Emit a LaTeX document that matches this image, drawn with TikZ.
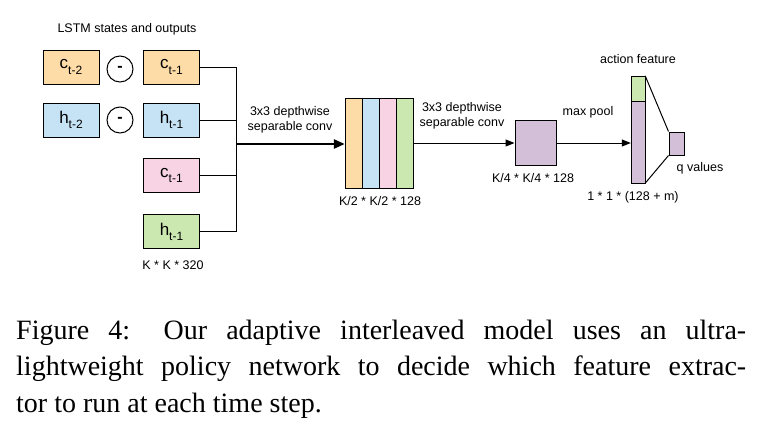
\documentclass[tikz,border=0pt]{standalone}
\usepackage{fontspec}
\setmainfont{Liberation Sans}
\newfontfamily\capfont{Liberation Serif}
\usetikzlibrary{arrows.meta}
\definecolor{cor}{HTML}{FDDCA8}
\definecolor{cbl}{HTML}{C5E3F4}
\definecolor{cpk}{HTML}{F7D3E4}
\definecolor{cgr}{HTML}{CAE8B0}
\definecolor{cpu}{HTML}{D4BFD8}
\newcommand{\sbt}[1]{\raisebox{-0.3em}{\fontsize{12}{13}\selectfont #1}}
\begin{document}
\begin{tikzpicture}[x=1pt,y=-1pt,
  bx/.style={draw,line width=1pt,minimum width=56pt,minimum height=34pt,inner sep=0pt,font=\fontsize{17}{19}\selectfont},
  lb/.style={font=\fontsize{12.5}{15}\selectfont,align=center,inner sep=0pt},
  cr/.style={draw,circle,line width=1pt,minimum size=26pt,inner sep=0pt,font=\fontsize{16}{18}\selectfont\bfseries},
  ln/.style={line width=1pt},
  ar/.style={line width=1pt,-{Triangle[length=9pt,width=7pt]}}]
\useasboundingbox (0,0) rectangle (764,442);
\fill[white] (0,0) rectangle (764,442);
\node[lb] (title) at (127,29) {LSTM states and outputs};
\node[bx,fill=cor] (c2) at (71,67) {c\sbt{t-2}};
\node[bx,fill=cbl] (h2) at (71,120) {h\sbt{t-2}};
\node[cr] (o1) at (120,69) {-};
\node[cr] (o2) at (120,120) {-};
\node[bx,fill=cor] (c1) at (171.5,67) {c\sbt{t-1}};
\node[bx,fill=cbl] (h1) at (171.5,120) {h\sbt{t-1}};
\node[bx,fill=cpk] (c1b) at (171.5,175.5) {c\sbt{t-1}};
\node[bx,fill=cgr] (h1b) at (171.5,231.5) {h\sbt{t-1}};
\node[lb] (k320) at (173,265) {K * K * 320};
\coordinate (bt) at (236,67);
\coordinate (bb) at (236,231.5);
\coordinate (bm) at (236,144);
\draw[ln] (c1.east) -- (bt) -- (bb) -- (h1b.east);
\draw[ln] (h1.east) -- (h1.east -| bm);
\draw[ln] (c1b.east) -- (c1b.east -| bm);
\foreach \i/\c in {0/cor,1/cbl,2/cpk,3/cgr}{
  \draw[ln,fill=\c] (345+17*\i,98) rectangle (362+17*\i,188);}
\node[inner sep=0pt,minimum width=68pt,minimum height=90pt] (blk) at (379,143) {};
\draw[line width=2.5pt,-{Triangle[length=11pt,width=9pt]}] (bm) -- (bm -| blk.west);
\node[lb] (l1) at (290,120) {3x3 depthwise\\separable conv};
\node[lb] (k2) at (380,201) {K/2 * K/2 * 128};
\node[draw,line width=1pt,fill=cpu,minimum width=41pt,minimum height=45pt,inner sep=0pt] (pb) at (535.5,142.5) {};
\draw[ar] (413,143) -- (pb.west |- 0,143);
\node[lb] (l2) at (462,116) {3x3 depthwise\\separable conv};
\node[lb] (k4) at (533,178) {K/4 * K/4 * 128};
\draw[ln,fill=cpu] (631,101) rectangle (645,183);
\draw[ln,fill=cgr] (631,76) rectangle (645,101);
\node[inner sep=0pt,minimum width=14pt,minimum height=107pt] (bar) at (638,129.5) {};
\draw[ar] (pb.east |- 0,143) -- (bar.west |- 0,143);
\node[lb] (mp) at (588,112) {max pool};
\node[lb] (af) at (638,59) {action feature};
\node[draw,line width=1pt,fill=cpu,minimum width=15pt,minimum height=23pt,inner sep=0pt] (q) at (676.5,143.5) {};
\draw[ln] (bar.north east) -- (q.north west);
\draw[ln] (bar.south east) -- (q.south west);
\node[lb] (qv) at (700,168) {q values};
\node[lb] (m) at (633,197) {1 * 1 * (128 + m)};
\begin{scope}[every node/.style={anchor=base west,inner sep=0pt,font=\capfont\fontsize{28}{32}\selectfont}]
\node (cap1) at (16,339) {\makebox[730pt][s]{Figure 4: Our adaptive interleaved model uses an ultra-}};
\node (cap2) at (16,375) {\makebox[730pt][s]{lightweight policy network to decide which feature extrac-}};
\node (cap3) at (16,412) {tor to run at each time step.};
\end{scope}
\end{tikzpicture}
\end{document}
